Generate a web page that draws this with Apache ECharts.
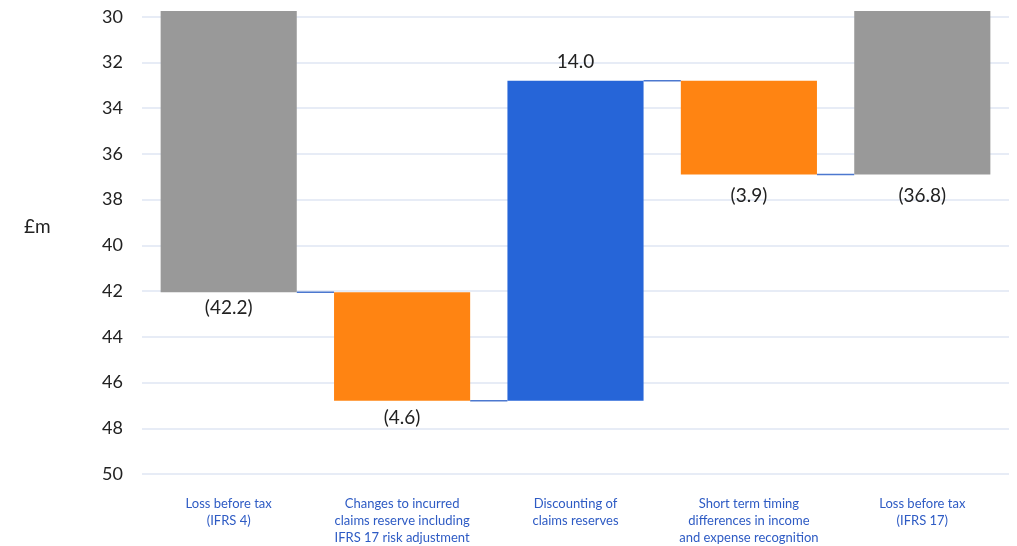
<!DOCTYPE html>
<html>
<head>
<meta charset="utf-8">
<script src="https://cdn.jsdelivr.net/npm/echarts@6/dist/echarts.min.js"></script>
<style>html,body{margin:0;padding:0;background:#fff;overflow:hidden}#c{width:1017px;height:546px}</style>
</head>
<body>
<div id="c"></div>
<script>
const categories = [
  'Loss before tax\n(IFRS 4)',
  'Changes to incurred\nclaims reserve including\nIFRS 17 risk adjustment',
  'Discounting of\nclaims reserves',
  'Short term timing\ndifferences in income\nand expense recognition',
  'Loss before tax\n(IFRS 17)'
];
// bar extents (£m, axis runs downward)
const barStart = [29.75, 42.05, 46.8, 32.8, 29.75];
const barEnd   = [42.05, 46.8, 32.8, 36.9, 36.9];
const barKinds = ['total', 'decrease', 'increase', 'decrease', 'total'];
const valueLabels = ['(42.2)', '(4.6)', '14.0', '(3.9)', '(36.8)'];
const yMin = 30, yMax = 50, yStep = 2;

// styling
const kindColor = { total: '#999999', decrease: '#FF8412', increase: '#2665D8' };
const labelGap = [6, 8, 9, 12, 12];
const barFrac = 0.785;
const font = 'Lato, "Open Sans", sans-serif';

const placeholder = barStart.map((s, i) => Math.min(s, barEnd[i]));
const visible = barStart.map((s, i) => ({
  value: Math.abs(barEnd[i] - s),
  itemStyle: { color: kindColor[barKinds[i]] },
  label: {
    position: barKinds[i] === 'increase' ? 'top' : 'bottom',
    distance: labelGap[i],
    formatter: valueLabels[i]
  }
}));
const connectorData = [];
for (let i = 0; i < barEnd.length - 1; i++) connectorData.push([i, i + 1, barEnd[i]]);

const chart = echarts.init(document.getElementById('c'), null, { renderer: 'canvas' });
chart.setOption({
  animation: false,
  backgroundColor: '#fff',
  textStyle: { fontFamily: font },
  grid: { left: 142, right: 8, top: 16.7, bottom: 66.5, containLabel: false },
  graphic: [{
    type: 'text', left: 24, top: 217,
    style: { text: '£m', fontSize: 19, fill: '#222', fontFamily: font }
  }],
  xAxis: {
    type: 'category', data: categories,
    axisLine: { show: false }, axisTick: { show: false },
    axisLabel: { color: '#2E5BC4', fontSize: 13, lineHeight: 17, margin: 21, interval: 0, fontFamily: font }
  },
  yAxis: {
    type: 'value', inverse: true, min: yMin, max: yMax, interval: yStep,
    axisLine: { show: false }, axisTick: { show: false },
    axisLabel: { color: '#222', fontSize: 18, margin: 19, fontFamily: font },
    splitLine: { lineStyle: { color: '#DFE6F3', width: 1.5 } }
  },
  series: [
    {
      type: 'bar', stack: 'w', barWidth: (barFrac * 100) + '%', silent: true,
      itemStyle: { color: 'transparent' }, data: placeholder, z: 2
    },
    {
      type: 'bar', stack: 'w', barWidth: (barFrac * 100) + '%', clip: false, z: 3,
      label: { show: true, color: '#222', fontSize: 19, fontFamily: font },
      data: visible
    },
    {
      type: 'custom', z: 1, silent: true,
      encode: { x: [0, 1], y: 2 },
      data: connectorData,
      renderItem: function (params, api) {
        const a = api.coord([api.value(0), api.value(2)]);
        const b = api.coord([api.value(1), api.value(2)]);
        const half = api.size([1, 0])[0] * barFrac / 2;
        return {
          type: 'line',
          shape: { x1: a[0] + half, y1: a[1], x2: b[0] - half, y2: b[1] },
          style: { stroke: '#4C78CF', lineWidth: 1.5 }
        };
      }
    }
  ]
});
</script>
</body>
</html>
